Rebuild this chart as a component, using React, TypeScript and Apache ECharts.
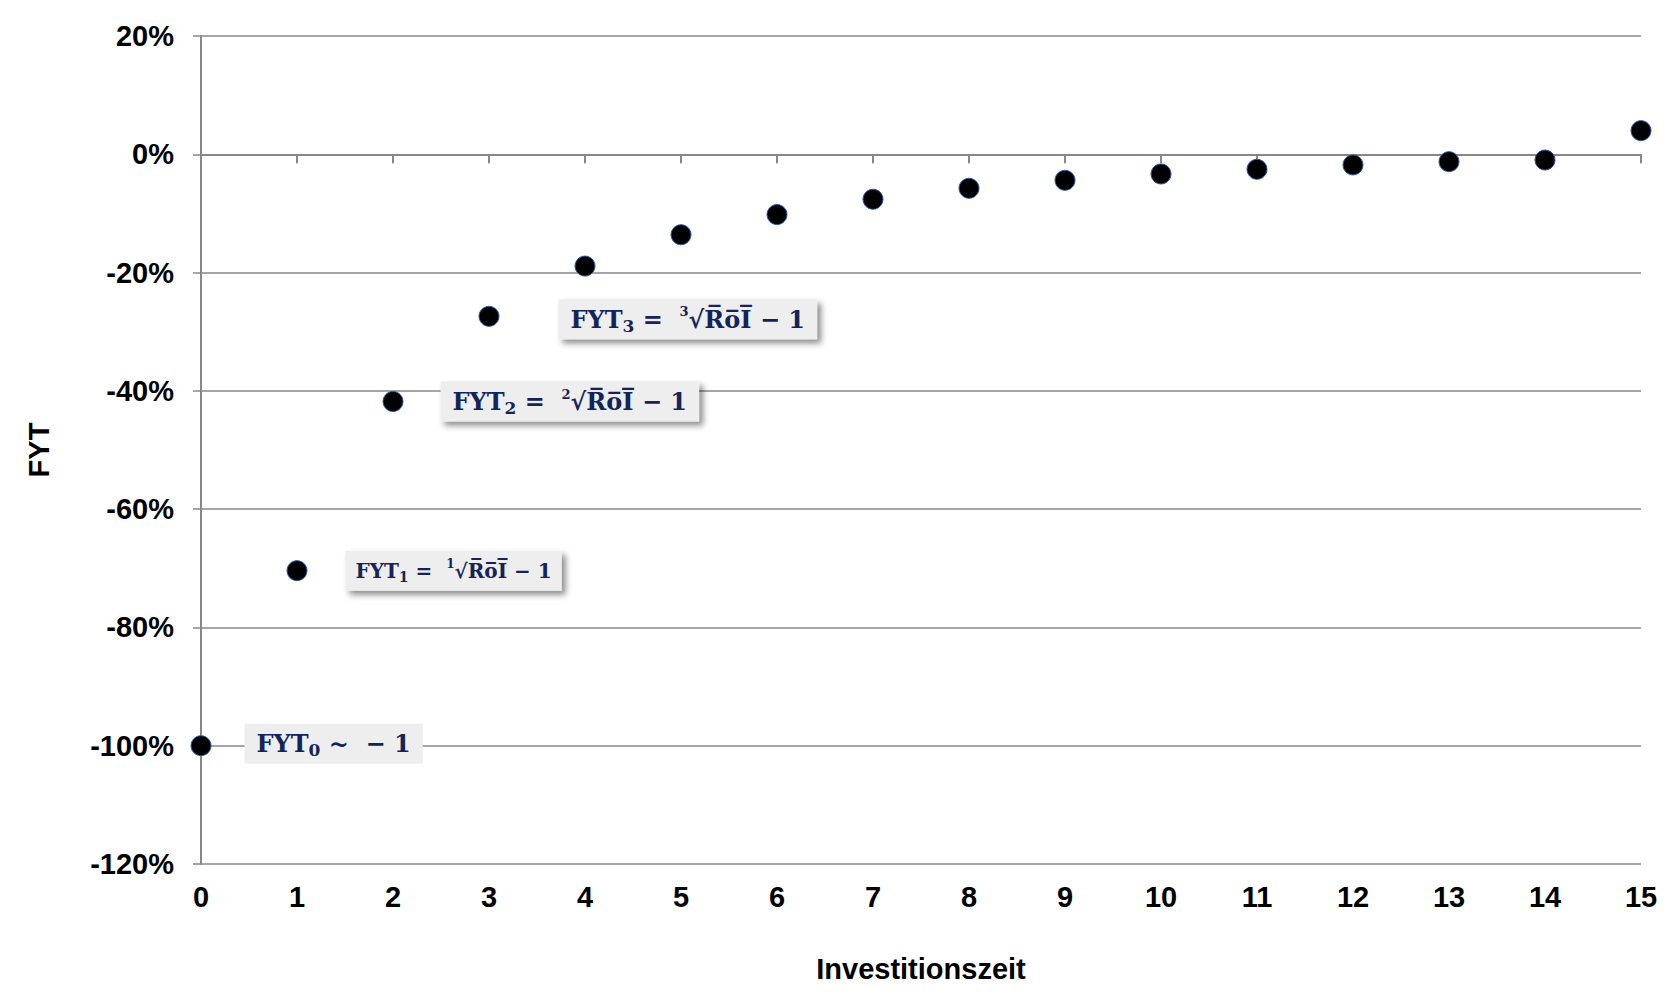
import React, { useEffect, useRef } from "react";
import * as echarts from "echarts";

// ---- data ----
const investYears = [0, 1, 2, 3, 4, 5, 6, 7, 8, 9, 10, 11, 12, 13, 14, 15];
const fytPercent = [-100, -70.4, -41.8, -27.4, -18.9, -13.6, -10.2, -7.6, -5.75, -4.4, -3.33, -2.54, -1.8, -1.25, -0.97, 4.0];
const yTickMin = -120;
const yTickMax = 20;
const yTickStep = 20;
const xAxisTitle = "Investitionszeit";
const yAxisTitle = "FYT";
const OV = "\u0305";
const rootOI = "√R" + OV + "o" + OV + "I" + OV;
// annotations attached to the first four points
const annotationIndex = [0, 1, 2, 3];
const annotationText = [
  "{m|FYT}{sub|0}{m| ~  − 1}",
  "{s|FYT}{ssub|1}{s| =  }{ssup|1}{s|" + rootOI + " − 1}",
  "{m|FYT}{sub|2}{m| =  }{sup|2}{m|" + rootOI + " − 1}",
  "{m|FYT}{sub|3}{m| =  }{sup|3}{m|" + rootOI + " − 1}",
];

const NAVY = "#14245a";
const GRID_GRAY = "#878787";
const SANS = "'Liberation Sans', Arial, Helvetica, sans-serif";
const SERIF = "'DejaVu Serif', 'Liberation Serif', serif";

const rich = {
  m: { fontFamily: SERIF, fontWeight: "bold", fontSize: 24, color: NAVY, lineHeight: 30 },
  sub: { fontFamily: SERIF, fontWeight: "bold", fontSize: 17, color: NAVY, lineHeight: 17, padding: [13, 0, 0, 0] },
  sup: { fontFamily: SERIF, fontWeight: "bold", fontSize: 13, color: NAVY, lineHeight: 13, padding: [0, 0, 15, 0] },
  s: { fontFamily: SERIF, fontWeight: "bold", fontSize: 20, color: NAVY, lineHeight: 28 },
  ssub: { fontFamily: SERIF, fontWeight: "bold", fontSize: 14, color: NAVY, lineHeight: 14, padding: [12, 0, 0, 0] },
  ssup: { fontFamily: SERIF, fontWeight: "bold", fontSize: 12, color: NAVY, lineHeight: 12, padding: [0, 0, 13, 0] },
};

const labelLayout = [
  { distance: 33, offset: [0, -2], shadow: false, padding: [5, 12, 5, 12] },
  { distance: 38, offset: [0, 0], shadow: true, padding: [6, 10, 6, 10] },
  { distance: 37, offset: [0, 0], shadow: true, padding: [5, 12, 5, 12] },
  { distance: 59, offset: [0, 3], shadow: true, padding: [5, 12, 5, 12] },
];

function buildData() {
  return investYears.map((x, i) => {
    const k = annotationIndex.indexOf(i);
    const item: any = { value: [x, fytPercent[i]] };
    if (k >= 0) {
      const lay = labelLayout[k];
      item.label = {
        show: true,
        opacity: 1,
        position: "right",
        distance: lay.distance,
        offset: lay.offset,
        formatter: annotationText[k],
        rich,
        backgroundColor: "#eeeeee",
        padding: lay.padding,
        shadowColor: lay.shadow ? "rgba(0,0,0,0.45)" : "transparent",
        shadowBlur: lay.shadow ? 6 : 0,
        shadowOffsetX: lay.shadow ? 4 : 0,
        shadowOffsetY: lay.shadow ? 4 : 0,
      };
    }
    return item;
  });
}

export default function App() {
  const ref = useRef<HTMLDivElement>(null);
  useEffect(() => {
    if (!ref.current) return;
    const chart = echarts.init(ref.current, null, { renderer: "svg" });
    chart.setOption({
      animation: false,
      backgroundColor: "#ffffff",
      grid: { left: 201, right: 39, top: 36, bottom: 133 },
      xAxis: [
        {
          type: "value",
          position: "bottom",
          min: 0,
          max: 15,
          interval: 1,
          axisLine: { show: false, onZero: false },
          axisTick: { show: false },
          splitLine: { show: false },
          axisLabel: {
            margin: 18,
            fontFamily: SANS,
            fontWeight: "bold",
            fontSize: 29,
            color: "#000",
          },
          name: xAxisTitle,
          nameLocation: "middle",
          nameGap: 90,
          nameTextStyle: { fontFamily: SANS, fontWeight: "bold", fontSize: 29, color: "#000" },
        },
        {
          type: "value",
          position: "bottom",
          min: 0,
          max: 15,
          interval: 1,
          axisLine: { show: true, onZero: true, onZeroAxisIndex: 0, lineStyle: { color: GRID_GRAY, width: 2 } },
          axisTick: { show: true, inside: false, length: 9, lineStyle: { color: GRID_GRAY, width: 2 } },
          axisLabel: { show: false },
          splitLine: { show: false },
        },
      ],
      yAxis: {
        type: "value",
        min: yTickMin,
        max: yTickMax,
        interval: yTickStep,
        axisLine: { show: true, lineStyle: { color: GRID_GRAY, width: 2 } },
        axisTick: { show: true, length: 8, lineStyle: { color: GRID_GRAY, width: 1.5 } },
        splitLine: { show: true, lineStyle: { color: GRID_GRAY, width: 1.5 } },
        axisLabel: {
          formatter: "{value}%",
          margin: 27,
          fontFamily: SANS,
          fontWeight: "bold",
          fontSize: 29,
          color: "#000",
        },
        name: yAxisTitle,
        nameLocation: "middle",
        nameRotate: 90,
        nameGap: 148,
        nameTextStyle: { fontFamily: SANS, fontWeight: "bold", fontSize: 29, color: "#000" },
      },
      series: [
        {
          type: "scatter",
          xAxisIndex: 0,
          symbol: "circle",
          symbolSize: 20,
          itemStyle: { color: "#000", opacity: 1, borderColor: "#2a5aa8", borderWidth: 1 },
          data: buildData(),
          z: 5,
        },
      ],
    });
    return () => chart.dispose();
  }, []);
  return (
    <div
      ref={ref}
      style={{ position: "fixed", left: 0, top: 0, width: 1680, height: 997, background: "#fff" }}
    />
  );
}
